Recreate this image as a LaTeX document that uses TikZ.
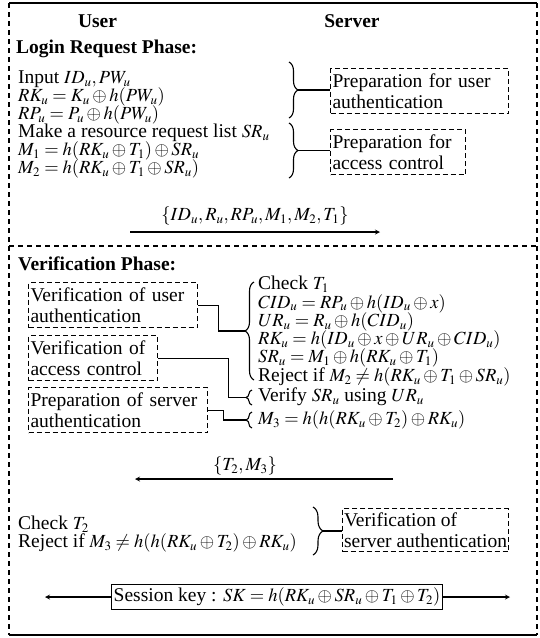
\documentclass[tikz,border=0pt]{standalone}
\usepackage{mathptmx}
\usepackage{fontspec}
\setmainfont{Liberation Serif}
\usetikzlibrary{arrows, decorations.pathreplacing}
\DeclareMathSizes{19.5}{18.5}{13}{10}

\newcommand{\bodyfont}{\fontsize{19.5}{18}\selectfont\lineskiplimit=-30pt\relax}
\newcommand{\boxfont}{\fontsize{19.5}{21}\selectfont\lineskiplimit=-30pt\relax}
\newcommand{\chkfont}{\fontsize{19.5}{18.3}\selectfont\lineskiplimit=-30pt\relax}

\tikzstyle{txt} = [inner sep=0pt, anchor=north west, align=left, font=\bodyfont]
\tikzstyle{hdr} = [inner sep=0pt, font=\bodyfont\bfseries]
\tikzstyle{dbox} = [draw, dash pattern=on 5pt off 3pt, line width=1.1pt, anchor=north west, align=left, inner xsep=2pt, inner ysep=0pt, minimum height=45pt, font=\boxfont]
\tikzstyle{frame} = [line width=1.1pt, dash pattern=on 5pt off 4pt]
\tikzstyle{edge} = [line width=1.2pt, ->, >=stealth]
\tikzstyle{link} = [line width=1.1pt]
\tikzstyle{brc} = [line width=1.1pt, decorate, decoration={brace, amplitude=9pt}]

\begin{document}
\begin{tikzpicture}[x=1pt, y=-1pt]
\useasboundingbox (0,0) rectangle (540,638);

% outer frame
\draw[line width=2pt] (9,3) -- (537,3);
\draw[line width=1.5pt] (9,635) -- (537,635);
\draw[frame] (9,3) -- (9,635);
\draw[frame] (537,3) -- (537,635);
\draw[frame] (9,246) -- (537,246);

\node (user) [hdr] at (97.5,21) {User};
\node (server) [hdr] at (352,21) {Server};

% login request
\node (lrp) [hdr, anchor=west] at (16,49) {Login Request Phase:};
\node (login) [txt] at (18,70.5) {Input $ID_u, PW_u$\\
  $RK_u = K_u \oplus h(PW_u)$\\
  $RP_u = P_u \oplus h(PW_u)$\\
  Make a resource request list $SR_u$\\
  $M_1 = h(RK_u \oplus T_1) \oplus SR_u$\\
  $M_2 = h(RK_u \oplus T_1 \oplus SR_u)$};

\node (pua) [dbox, text width=174pt] at (330,68) {Preparation for user\\authentication};
\node (pac) [dbox, text width=131pt] at (330,129) {Preparation for\\access control};

\draw[brc] (289,62) -- (289,118);
\draw[brc] (289,123) -- (289,178);
\coordinate (t1) at (298,90);
\coordinate (t2) at (298,150.5);
\draw[link] (t1) -- (t1 -| pua.west);
\draw[link] (t2) -- (t2 -| pac.west);

\coordinate (u1) at (130,232);
\coordinate (s1) at (380,232);
\draw[edge] (u1) -- node[above=3pt, font=\bodyfont] {$\{ID_u, R_u, RP_u, M_1, M_2, T_1\}$} (s1);

% verification
\node (vp) [hdr, anchor=west] at (18,264) {Verification Phase:};
\node (vua) [dbox, text width=165pt] at (28,282) {Verification of user\\authentication};
\node (vac) [dbox, text width=125pt] at (28,335) {Verification of\\access control};
\node (psa) [dbox, text width=175pt] at (28,387) {Preparation of server\\authentication};

\node (chk) [txt, font=\chkfont] at (258,276) {Check $T_1$\\
  $CID_u = RP_u \oplus h(ID_u \oplus x)$\\
  $UR_u = R_u \oplus h(CID_u)$\\
  $RK_u = h(ID_u \oplus x \oplus UR_u \oplus CID_u)$\\
  $SR_u = M_1 \oplus h(RK_u \oplus T_1)$\\
  Reject if $M_2 \neq h(RK_u \oplus T_1 \oplus SR_u)$};
\node (vfy) [txt, anchor=west] at (258,397) {Verify $SR_u$ using $UR_u$};
\node (mth) [txt, anchor=west] at (258,420) {$M_3 = h(h(RK_u \oplus T_2) \oplus RK_u)$};

\draw[brc] (254,380) -- (254,282);
\draw[brc, decoration={brace, amplitude=6pt}] (252,405) -- (252,390);
\draw[brc, decoration={brace, amplitude=6pt}] (252,428) -- (252,412);
\coordinate (t3) at (245,331);
\coordinate (t4) at (246,397.5);
\coordinate (t5) at (246,420);
\draw[link] (vua.east) -- ++(20,0) |- (t3);
\draw[link] (vac.east) -- ++(70,0) |- (t4);
\draw[link] (psa.east) -- ++(15,0) |- (t5);

\coordinate (s2) at (393,479);
\coordinate (u2) at (135,479);
\draw[edge] (s2) -- (u2);
\node (m3lab) [font=\bodyfont] at (245,466) {$\{T_2, M_3\}$};

\node (fin) [txt] at (18,516) {Check $T_2$\\
  Reject if $M_3 \neq h(h(RK_u \oplus T_2) \oplus RK_u)$};
\node (vsa) [dbox, inner xsep=1.5pt, minimum height=43pt] at (342,508) {Verification of\\server authentication};
\draw[brc, decoration={brace, amplitude=10pt}] (313,507) -- (313,555);
\coordinate (t6) at (323,531);
\draw[link] (t6) -- (t6 -| vsa.west);

% session key
\node (sk) [draw, line width=1.2pt, inner xsep=2pt, inner ysep=3pt, font=\bodyfont] at (277,597) {Session key : $SK = h(RK_u \oplus SR_u \oplus T_1 \oplus T_2)$};
\coordinate (ul) at (45,597);
\coordinate (sr) at (510,597);
\draw[edge] (sk.west) -- (ul);
\draw[edge] (sk.east) -- (sr);

\end{tikzpicture}
\end{document}
